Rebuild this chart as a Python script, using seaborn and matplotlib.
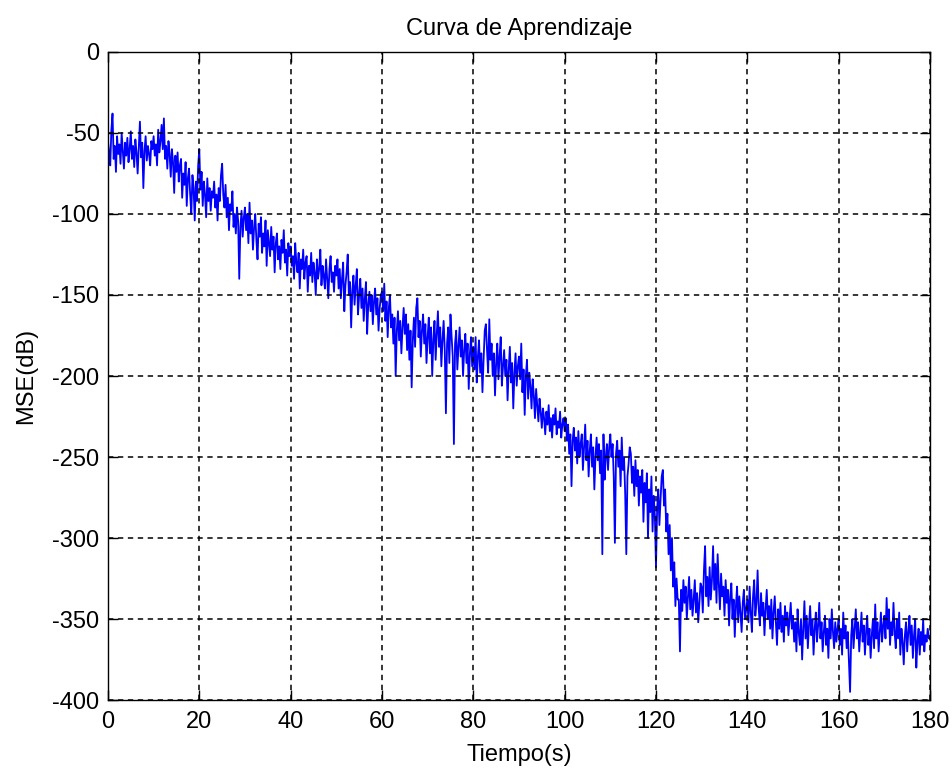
import numpy as np
import pandas as pd
import matplotlib
matplotlib.use("Agg")
import matplotlib.pyplot as plt
import seaborn as sns

# Learning curve: MSE in dB sampled every 0.25 s from 0 to 180 s (20 samples per row = 5 s)
step_s = 0.25
mse_db = [
    # 0-10 s
    -55, -62, -70, -48, -38, -66, -58, -74, -52, -63, -57, -69, -50, -61, -72, -56, -64, -53, -68, -60,
    -49, -66, -58, -71, -54, -62, -75, -59, -43, -65, -56, -84, -61, -52, -67, -58, -63, -70, -55, -60,
    # 10-20 s
    -52, -64, -57, -70, -48, -62, -55, -45, -60, -41, -66, -58, -72, -55, -63, -77, -60, -68, -87, -64,
    -74, -62, -80, -70, -66, -90, -75, -82, -68, -95, -78, -72, -88, -100, -76, -84, -104, -80, -92, -70,
    # 20-30 s
    -60, -85, -74, -95, -80, -88, -102, -78, -92, -84, -98, -86, -90, -80, -96, -88, -104, -84, -92, -76,
    -69, -88, -96, -82, -102, -90, -110, -94, -98, -86, -108, -100, -112, -96, -104, -140, -108, -98, -114, -102,
    # 30-40 s
    -96, -110, -100, -118, -93, -112, -104, -122, -108, -100, -116, -128, -106, -114, -102, -124, -112, -120, -104, -132,
    -110, -118, -126, -108, -122, -114, -136, -118, -112, -128, -120, -134, -116, -124, -110, -130, -122, -138, -118, -126,
    # 40-50 s
    -120, -132, -126, -140, -118, -130, -136, -124, -146, -128, -134, -122, -140, -130, -126, -148, -132, -138, -124, -142,
    -130, -136, -150, -128, -140, -134, -122, -144, -132, -138, -146, -128, -140, -152, -134, -126, -142, -136, -148, -132,
    # 50-60 s
    -138, -128, -146, -134, -152, -140, -130, -160, -144, -136, -125, -150, -142, -170, -148, -138, -156, -144, -134, -162,
    -150, -140, -158, -146, -166, -152, -142, -174, -156, -148, -160, -150, -168, -154, -146, -162, -152, -172, -158, -150,
    # 60-70 s
    -148, -160, -143, -166, -154, -176, -158, -150, -170, -162, -180, -164, -200, -172, -160, -178, -166, -186, -170, -158,
    -174, -162, -184, -168, -190, -172, -207, -178, -164, -182, -158, -152, -176, -166, -188, -172, -162, -180, -168, -192,
    # 70-80 s
    -176, -164, -186, -170, -200, -178, -166, -190, -174, -160, -182, -170, -194, -178, -166, -184, -223, -180, -170, -192,
    -162, -176, -188, -242, -180, -172, -196, -182, -170, -188, -178, -200, -184, -174, -192, -180, -208, -186, -176, -194,
    # 80-90 s
    -182, -196, -176, -204, -188, -178, -198, -186, -210, -190, -172, -168, -184, -198, -165, -190, -180, -200, -186, -212,
    -192, -180, -202, -188, -176, -206, -194, -184, -200, -190, -215, -196, -182, -204, -192, -220, -198, -186, -206, -194,
    # 90-100 s
    -188, -202, -180, -210, -196, -224, -200, -190, -214, -198, -206, -220, -202, -212, -226, -208, -218, -228, -214, -222,
    -232, -220, -226, -236, -222, -230, -218, -234, -226, -238, -224, -230, -220, -236, -228, -232, -222, -238, -230, -226,
    # 100-110 s
    -234, -226, -240, -230, -248, -236, -268, -240, -232, -246, -238, -254, -234, -250, -242, -236, -258, -244, -230, -252,
    -240, -262, -246, -236, -256, -244, -270, -250, -238, -252, -242, -260, -246, -310, -236, -264, -250, -242, -258, -244,
    # 110-120 s
    -236, -250, -242, -262, -303, -248, -240, -256, -246, -268, -238, -258, -250, -272, -310, -262, -254, -244, -248, -266,
    -256, -274, -252, -268, -258, -280, -262, -272, -258, -290, -266, -278, -260, -300, -270, -284, -262, -296, -274, -286,
    # 120-130 s
    -318, -282, -270, -292, -276, -262, -258, -280, -270, -296, -285, -310, -292, -320, -300, -330, -315, -342, -325, -338,
    -338, -370, -332, -345, -326, -340, -330, -350, -336, -324, -344, -332, -348, -338, -326, -346, -334, -352, -340, -328,
    # 130-140 s
    -330, -346, -320, -305, -336, -324, -342, -318, -338, -326, -305, -332, -316, -340, -310, -328, -344, -322, -336, -330,
    -348, -326, -340, -332, -354, -336, -328, -350, -338, -361, -342, -330, -352, -336, -346, -358, -340, -332, -350, -344,
    # 140-150 s
    -338, -352, -330, -346, -358, -336, -326, -348, -340, -320, -344, -354, -334, -348, -340, -360, -344, -332, -350, -342,
    -356, -338, -362, -346, -336, -352, -366, -344, -356, -340, -358, -348, -364, -342, -354, -346, -360, -350, -340, -356,
    # 150-160 s
    -348, -364, -352, -370, -344, -358, -366, -350, -375, -356, -339, -362, -348, -368, -354, -342, -360, -350, -372, -356,
    -346, -364, -354, -340, -362, -352, -370, -358, -348, -366, -356, -374, -350, -362, -344, -358, -368, -352, -364, -356,
    # 160-170 s
    -350, -366, -356, -372, -346, -362, -354, -368, -358, -376, -395, -360, -350, -368, -356, -344, -362, -352, -370, -358,
    -346, -364, -354, -372, -358, -348, -366, -356, -374, -360, -350, -368, -341, -362, -352, -370, -358, -346, -364, -354,
    # 170-180 s
    -348, -362, -337, -356, -344, -366, -352, -360, -340, -358, -368, -350, -362, -346, -372, -356, -364, -378, -360, -352,
    -370, -358, -348, -366, -354, -374, -360, -350, -380, -364, -356, -372, -358, -366, -350, -370, -360, -364, -356, -362,
    -362,
]
x_ticks = [0, 20, 40, 60, 80, 100, 120, 140, 160, 180]
y_ticks = [0, -50, -100, -150, -200, -250, -300, -350, -400]

df = pd.DataFrame({
    "t": np.arange(len(mse_db)) * step_s,
    "mse": mse_db,
})

sns.set_theme(style="white")
plt.rcParams["font.family"] = ["Liberation Sans", "DejaVu Sans"]
plt.rcParams["axes.unicode_minus"] = False

fig = plt.figure(figsize=(9.52, 7.69), dpi=100)
ax = fig.add_axes([0.1134, 0.0897, 0.8635, 0.8427])

sns.lineplot(data=df, x="t", y="mse", color="#0000ff", linewidth=1.3, ax=ax)

ax.set_xlim(0, 180)
ax.set_ylim(-400, 0)
ax.set_xticks(x_ticks)
ax.set_yticks(y_ticks)
ax.grid(True, color="black", linestyle=(0, (3.5, 3)), linewidth=1.1)
ax.set_axisbelow(False)

for s in ax.spines.values():
    s.set_color("black")
    s.set_linewidth(1.0)
    s.set_visible(True)

ax.tick_params(direction="in", length=7, width=1.0, colors="black",
               labelsize=17, top=True, right=True, bottom=True, left=True)
ax.tick_params(axis="x", pad=8)
ax.tick_params(axis="y", pad=6)

ax.set_title("Curva de Aprendizaje", fontsize=17, color="black", pad=12)
ax.set_xlabel("Tiempo(s)", fontsize=17, color="black", labelpad=8)
ax.set_ylabel("MSE(dB)", fontsize=17, color="black", labelpad=11)

fig.savefig("out.png", dpi=100, facecolor="white")
